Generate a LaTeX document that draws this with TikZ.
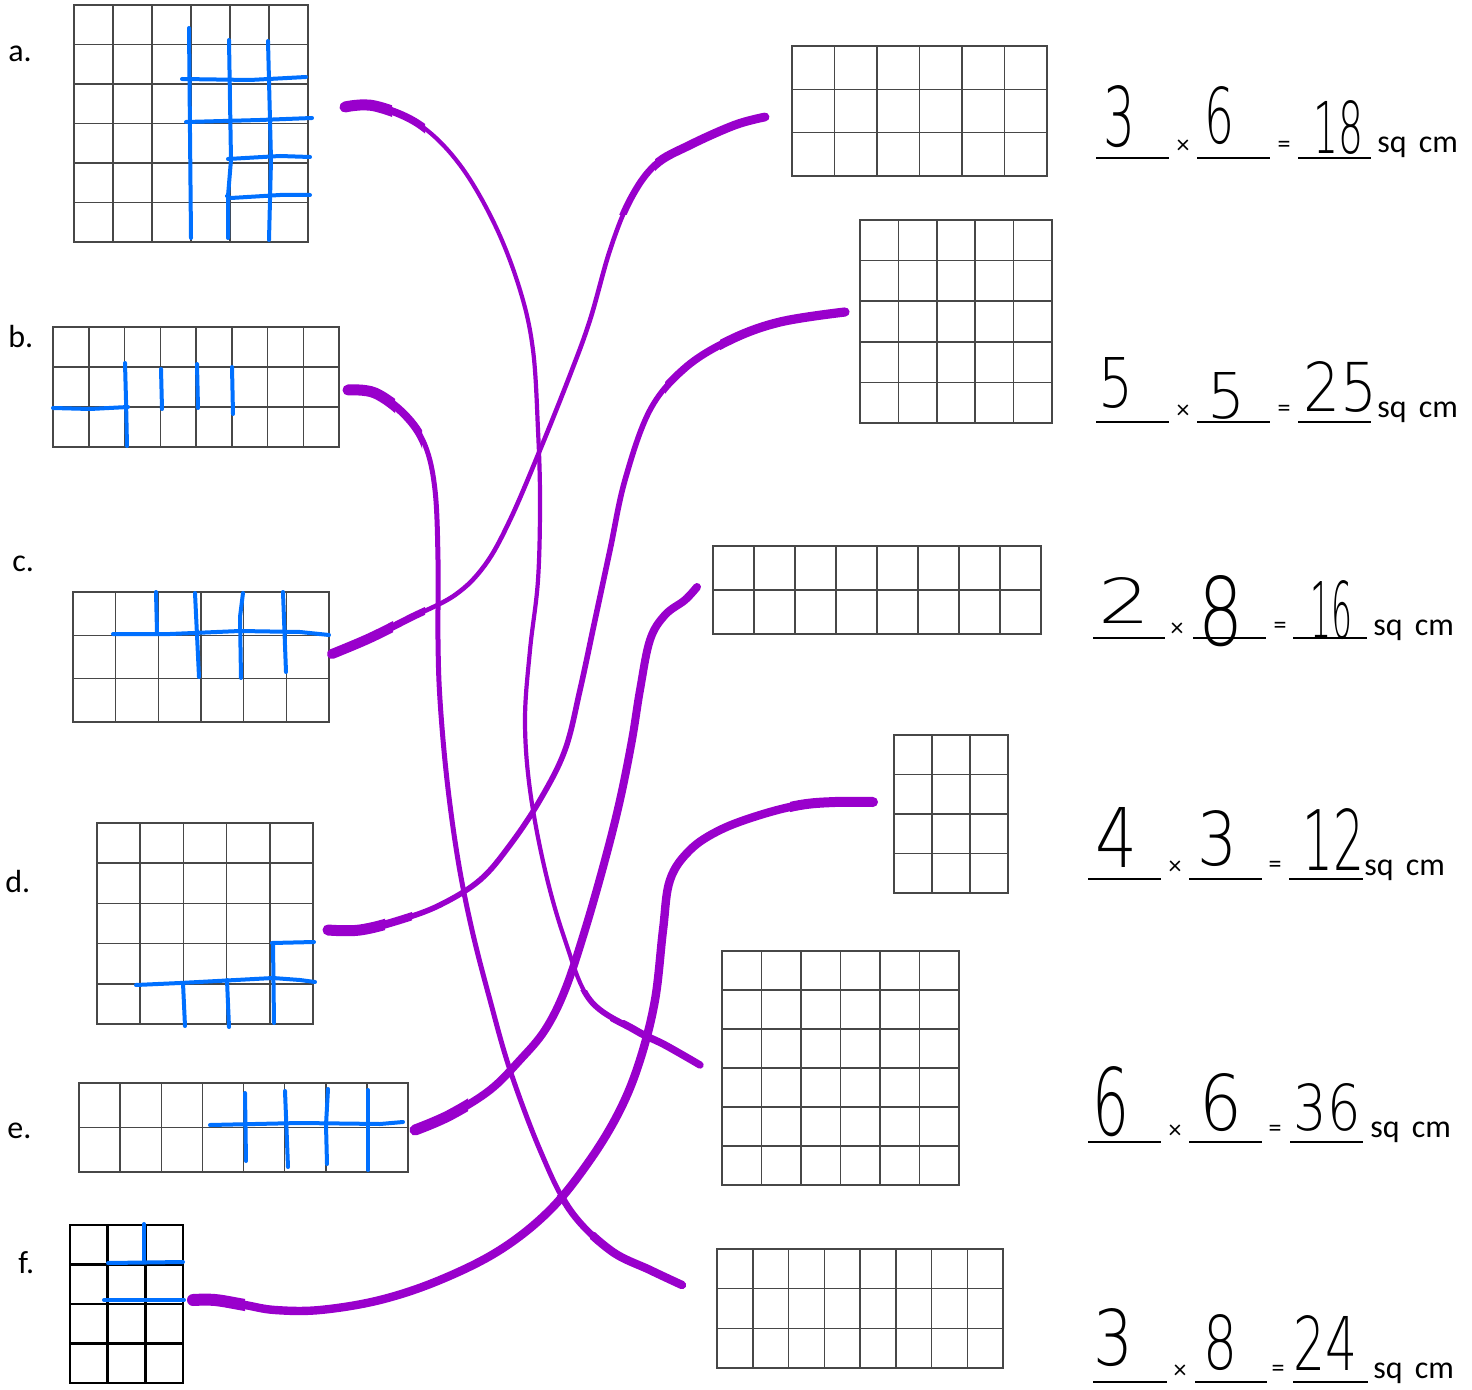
\documentclass[tikz,border=0pt]{standalone}
\usepackage{fontspec}
\usepackage{graphicx}
\setmainfont{Carlito}
\newfontfamily\hwfont{DejaVu Sans ExtraLight}
\definecolor{pen}{RGB}{0,112,255}
\definecolor{purp}{RGB}{153,0,204}
\newlength\upx
\setlength\upx{0.5pt}
\tikzset{
 gridline/.style={draw=black!72, line width=0.75pt},
 fgrid/.style={draw=black, line width=1.3pt},
 bluepen/.style={draw=pen, line width=2pt, line cap=round, line join=round},
 purppen/.style={draw=purp, line cap=round, line join=round},
 lbl/.style={font=\fontsize{16}{16}\selectfont, anchor=base west, inner sep=0},
 op/.style={font=\fontsize{13}{13}\selectfont, inner sep=0},
 blank/.style={draw=black, line width=0.6pt},
 hw/.style={inner sep=0},
}
\newcommand{\gridbox}[7]{%
 \pgfmathsetmacro\gdx{(#4-#2)/#6}%
 \pgfmathsetmacro\gdy{(#5-#3)/#7}%
 \pgfmathtruncatemacro\gnc{#6-1}%
 \pgfmathtruncatemacro\gnr{#7-1}%
 \foreach \i in {1,...,\gnc} {\draw[#1] ({#2+\i*\gdx},#3) -- ({#2+\i*\gdx},#5);}%
 \foreach \j in {1,...,\gnr} {\draw[#1] (#2,{#3+\j*\gdy}) -- (#4,{#3+\j*\gdy});}%
 \draw[#1] (#2,#3) rectangle (#4,#5);%
}
\newcommand{\hwd}[3]{\resizebox{#1\upx}{#2\upx}{\hwfont #3}}
% thicker part of a connector, clipped to a region
\newcommand{\thick}[4]{% #1 path macro, #2 corner, #3 corner, #4 width
 \begin{scope}\clip #2 rectangle #3; \draw[purppen, line width=#4] #1; \end{scope}}
\newcommand{\curveA}{plot[smooth, tension=0.6] coordinates {(aOut) (375,106) (420,125) (460,165) (495,225) (520,290) (533,350) (538,430) (540,500) (538,580) (530,650) (525,720) (530,790) (545,870) (565,940) (590,1000) (635,1030) (665,1045) (r5In)}}
\newcommand{\curveB}{plot[smooth, tension=0.6] coordinates {(bOut) (375,393) (405,415) (425,445) (435,490) (438,560) (438,640) (440,700) (447,780) (458,860) (472,930) (490,1000) (510,1070) (540,1150) (570,1210) (610,1250) (650,1270) (r6In)}}
\newcommand{\curveC}{plot[smooth, tension=0.6] coordinates {(cOut) (370,638) (410,618) (455,595) (485,565) (510,520) (540,450) (570,375) (590,320) (610,250) (630,200) (655,165) (690,145) (735,125) (r1In)}}
\newcommand{\curveD}{plot[smooth, tension=0.6] coordinates {(dOut) (360,930) (400,920) (440,905) (480,880) (510,845) (540,800) (565,750) (580,690) (595,620) (610,550) (625,480) (650,410) (685,368) (730,340) (780,322) (r2In)}}
\newcommand{\curveE}{plot[smooth, tension=0.6] coordinates {(eOut) (450,1115) (490,1090) (520,1060) (545,1030) (565,990) (585,930) (605,860) (620,800) (632,740) (640,690) (650,640) (665,615) (685,600) (r3In)}}
\newcommand{\curveF}{plot[smooth, tension=0.6] coordinates {(fOut) (215,1300) (245,1305) (275,1310) (320,1310) (380,1300) (440,1280) (500,1250) (550,1210) (590,1160) (620,1110) (640,1060) (655,1000) (663,930) (670,880) (690,850) (720,830) (760,815) (800,805) (835,802) (r4In)}}
\begin{document}
\begin{tikzpicture}[x=0.5pt,y=-0.5pt]
\useasboundingbox (0,0) rectangle (1472,1390);
\fill[white] (0,0) rectangle (1472,1390);

% ---------- left grids ----------
\gridbox{gridline}{74}{5}{308}{242}{6}{6}
\gridbox{gridline}{53}{327}{339}{447}{8}{3}
\gridbox{gridline}{73}{592}{329}{722}{6}{3}
\gridbox{gridline}{97}{823}{313}{1024}{5}{5}
\gridbox{gridline}{79}{1083}{408}{1172}{8}{2}
\gridbox{fgrid}{70}{1225}{183}{1383}{3}{4}

% ---------- right grids ----------
\gridbox{gridline}{792}{46}{1047}{176}{6}{3}
\gridbox{gridline}{860}{220}{1052}{423}{5}{5}
\gridbox{gridline}{713}{546}{1041}{634}{8}{2}
\gridbox{gridline}{894}{735}{1008}{893}{3}{4}
\gridbox{gridline}{722}{951}{959}{1185}{6}{6}
\gridbox{gridline}{717}{1249}{1003}{1368}{8}{3}

% ---------- labels ----------
\node[lbl] (la) at (8,62) {a.};
\node[lbl] (lb) at (8,348) {b.};
\node[lbl] (lc) at (12,571) {c.};
\node[lbl] (ld) at (5,892) {d.};
\node[lbl] (le) at (7,1138) {e.};
\node[lbl] (lf) at (18,1273) {f.};

% ---------- blue pen marks ----------
% a
\draw[bluepen] (189,28) -- (191,238);
\draw[bluepen] (229,40) -- (231,160) -- (228,196) -- (228,238);
\draw[bluepen] (268,41) -- (271,160) -- (269,240);
\draw[bluepen] (182,79) -- (250,80) -- (306,77);
\draw[bluepen] (186,122) -- (260,120) -- (312,118);
\draw[bluepen] (228,159) -- (280,156) -- (310,157);
\draw[bluepen] (227,196) -- (231,198) -- (280,195) -- (310,195);
% b
\draw[bluepen] (53,408) -- (90,409) -- (128,407);
\draw[bluepen] (125,363) -- (126,400) -- (127,446);
\draw[bluepen] (161,369) -- (162,409);
\draw[bluepen] (197,364) -- (198,408);
\draw[bluepen] (232,367) -- (233,414);
% c
\draw[bluepen] (113,634) -- (170,634) -- (240,631) -- (300,632) -- (329,635);
\draw[bluepen] (156,592) -- (157,632);
\draw[bluepen] (195,593) -- (199,677);
\draw[bluepen] (243,593) -- (240,617) -- (241,678);
\draw[bluepen] (283,592) -- (286,672);
% d
\draw[bluepen] (136,985) -- (180,983) -- (273,978) -- (300,980) -- (315,982);
\draw[bluepen] (272,943) -- (314,942);
\draw[bluepen] (183,983) -- (185,1026);
\draw[bluepen] (227,980) -- (229,1027);
\draw[bluepen] (273,943) -- (274,1023);
% e
\draw[bluepen] (210,1125) -- (300,1123) -- (380,1124) -- (403,1122);
\draw[bluepen] (245,1093) -- (246,1161);
\draw[bluepen] (285,1091) -- (288,1167);
\draw[bluepen] (328,1089) -- (326,1125) -- (327,1164);
\draw[bluepen] (368,1090) -- (368,1170);
% f
\draw[bluepen] (108,1263) -- (183,1262);
\draw[bluepen] (104,1300) -- (184,1300);
\draw[bluepen] (144,1224) -- (144,1262);

% ---------- connector end points ----------
\coordinate (aOut) at (345,107);
\coordinate (bOut) at (348,390);
\coordinate (cOut) at (332,654);
\coordinate (dOut) at (328,930);
\coordinate (eOut) at (415,1130);
\coordinate (fOut) at (193,1300);
\coordinate (r1In) at (765,117);
\coordinate (r2In) at (845,312);
\coordinate (r3In) at (697,587);
\coordinate (r4In) at (873,802);
\coordinate (r5In) at (700,1065);
\coordinate (r6In) at (682,1285);

% ---------- purple connectors ----------
% a -> r5
\draw[purppen, line width=2.1pt] \curveA;
\thick{\curveA}{(330,80)}{(392,140)}{5.5pt}
\thick{\curveA}{(392,80)}{(425,150)}{3.8pt}
\thick{\curveA}{(560,990)}{(720,1090)}{2.9pt}
\thick{\curveA}{(610,1020)}{(720,1090)}{3.7pt}
% b -> r6
\draw[purppen, line width=2.5pt] \curveB;
\thick{\curveB}{(330,370)}{(395,430)}{5.5pt}
\thick{\curveB}{(395,370)}{(422,450)}{4pt}
\thick{\curveB}{(540,1195)}{(700,1300)}{3.4pt}
\thick{\curveB}{(590,1232)}{(700,1300)}{4.2pt}
% c -> r1
\draw[purppen, line width=2.3pt] \curveC;
\thick{\curveC}{(315,620)}{(393,675)}{5pt}
\thick{\curveC}{(393,590)}{(425,640)}{3.6pt}
\thick{\curveC}{(615,100)}{(780,215)}{3.4pt}
\thick{\curveC}{(655,100)}{(780,175)}{4.4pt}
% d -> r2
\draw[purppen, line width=2.8pt] \curveD;
\thick{\curveD}{(310,900)}{(385,955)}{5.5pt}
\thick{\curveD}{(385,890)}{(412,945)}{4pt}
\thick{\curveD}{(665,290)}{(860,395)}{3.8pt}
\thick{\curveD}{(720,290)}{(860,360)}{4.6pt}
% e -> r3
\draw[purppen, line width=4pt] \curveE;
\thick{\curveE}{(400,1090)}{(468,1150)}{5.5pt}
% f -> r4
\draw[purppen, line width=4.2pt] \curveF;
\thick{\curveF}{(175,1280)}{(245,1330)}{6pt}
\thick{\curveF}{(790,785)}{(890,830)}{5pt}

% ---------- equations ----------
% row 1
\draw[blank] (1096,158) -- (1169,158);
\draw[blank] (1197,158) -- (1270,158);
\draw[blank] (1298,158) -- (1371,158);
\node[op] (x1) at (1183,147) {×};
\node[op] (q1) at (1284,147) {=};
\node[lbl] (s1) at (1377,153) {sq\hspace{0.15em} cm};
\node[hw] (n1a) at (1119,117) {\hwd{32}{61}{3}};
\node[hw] (n1b) at (1219,116) {\hwd{30}{57}{6}};
\node[hw] (n1c) at (1338,128) {\hwd{50}{53}{18}};
% row 2
\draw[blank] (1096,422) -- (1169,422);
\draw[blank] (1197,422) -- (1270,422);
\draw[blank] (1298,422) -- (1371,422);
\node[op] (x2) at (1183,412) {×};
\node[op] (q2) at (1284,411) {=};
\node[lbl] (s2) at (1377,417) {sq\hspace{0.15em} cm};
\node[hw] (n2a) at (1116,383) {\hwd{35}{50}{5}};
\node[hw] (n2b) at (1226,396) {\hwd{38}{46}{5}};
\node[hw] (n2c) at (1340,387) {\hwd{74}{50}{25}};
% row 3
\draw[blank] (1093,638) -- (1165,638);
\draw[blank] (1193,638) -- (1266,638);
\draw[blank] (1293,638) -- (1367,638);
\node[op] (x3) at (1177,630) {×};
\node[op] (q3) at (1280,628) {=};
\node[lbl] (s3) at (1373,635) {sq\hspace{0.15em} cm};
\node[hw] (n3a) at (1124,600) {\hwd{52}{46}{2}};
\node[hw] (n3b) at (1221,611) {\hwd{45}{70}{8}};
\node[hw] (n3c) at (1331,610) {\hwd{42}{58}{16}};
% row 4
\draw[blank] (1088,879) -- (1161,879);
\draw[blank] (1189,879) -- (1262,879);
\draw[blank] (1289,879) -- (1363,879);
\node[op] (x4) at (1175,868) {×};
\node[op] (q4) at (1275,867) {=};
\node[lbl] (s4) at (1364,875) {sq\hspace{0.15em} cm};
\node[hw] (n4a) at (1116,837) {\hwd{42}{60}{4}};
\node[hw] (n4b) at (1217,839) {\hwd{40}{55}{3}};
\node[hw] (n4c) at (1333,839) {\hwd{62}{62}{12}};
% row 5
\draw[blank] (1088,1142) -- (1161,1142);
\draw[blank] (1189,1142) -- (1262,1142);
\draw[blank] (1290,1142) -- (1363,1142);
\node[op] (x5) at (1175,1132) {×};
\node[op] (q5) at (1275,1131) {=};
\node[lbl] (s5) at (1370,1137) {sq\hspace{0.15em} cm};
\node[hw] (n5a) at (1111,1102) {\hwd{37}{69}{6}};
\node[hw] (n5b) at (1221,1103) {\hwd{43}{57}{6}};
\node[hw] (n5c) at (1327,1107) {\hwd{67}{47}{36}};
% row 6
\draw[blank] (1093,1382) -- (1167,1382);
\draw[blank] (1195,1382) -- (1267,1382);
\draw[blank] (1293,1382) -- (1368,1382);
\node[op] (x6) at (1180,1372) {×};
\node[op] (q6) at (1278,1371) {=};
\node[lbl] (s6) at (1373,1378) {sq\hspace{0.15em} cm};
\node[hw] (n6a) at (1113,1338) {\hwd{40}{57}{3}};
\node[hw] (n6b) at (1220,1343) {\hwd{34}{55}{8}};
\node[hw] (n6c) at (1325,1343) {\hwd{64}{55}{24}};
\end{tikzpicture}
\end{document}
